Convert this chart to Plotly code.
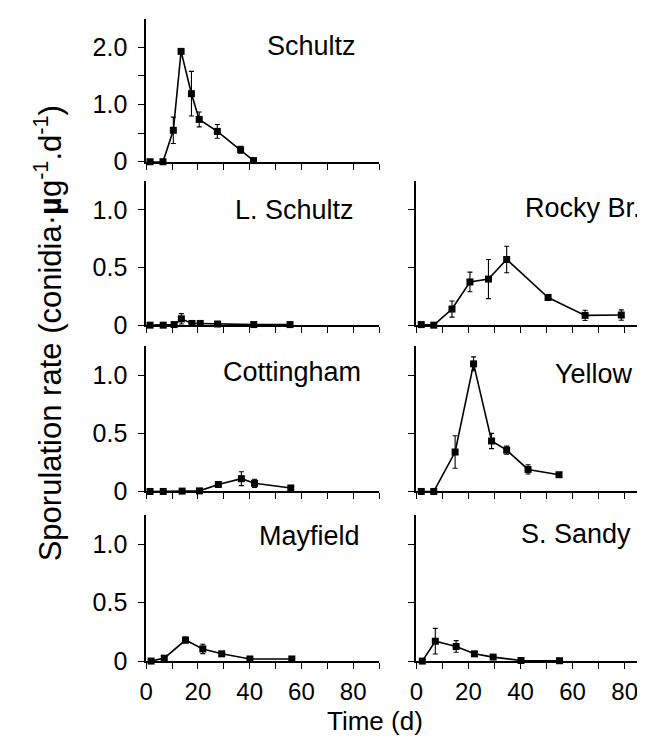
import plotly.graph_objects as go

# ---------------- data ----------------
schultz_x = [1.5, 6.5, 10.5, 13.5, 17.5, 20.5, 27.5, 36.5, 41.5]
schultz_y = [0.0, 0.0, 0.55, 1.93, 1.19, 0.74, 0.53, 0.21, 0.02]
schultz_e = [0, 0, 0.23, 0, 0.39, 0.13, 0.12, 0.06, 0]

lschultz_x = [1.5, 6.6, 10.8, 13.6, 17.7, 20.9, 27.6, 41.6, 55.6]
lschultz_y = [0.0, 0.0, 0.005, 0.055, 0.015, 0.015, 0.01, 0.005, 0.005]
lschultz_e = [0, 0, 0, 0.045, 0, 0, 0, 0, 0]

rocky_x = [1.9, 6.7, 13.7, 20.6, 27.7, 34.7, 50.6, 64.8, 78.7]
rocky_y = [0.005, 0.0, 0.14, 0.375, 0.40, 0.57, 0.24, 0.085, 0.088]
rocky_e = [0, 0, 0.07, 0.085, 0.17, 0.115, 0, 0.045, 0.045]

cott_x = [1.5, 6.6, 13.9, 20.6, 27.9, 36.8, 41.9, 55.9]
cott_y = [0.0, 0.0, 0.003, 0.005, 0.06, 0.11, 0.07, 0.03]
cott_e = [0, 0, 0, 0, 0, 0.06, 0.035, 0]

yellow_x = [1.9, 6.7, 14.9, 22.0, 28.9, 34.7, 42.9, 54.8]
yellow_y = [0.0, 0.0, 0.34, 1.10, 0.435, 0.356, 0.19, 0.144]
yellow_e = [0, 0, 0.14, 0.06, 0.066, 0.035, 0.04, 0]

mayfield_x = [1.9, 7.0, 15.2, 21.9, 29.2, 40.1, 56.3]
mayfield_y = [0.0, 0.025, 0.18, 0.104, 0.062, 0.018, 0.018]
mayfield_e = [0, 0, 0.025, 0.04, 0, 0, 0]

ssandy_x = [2.3, 7.3, 15.3, 22.3, 29.5, 40.2, 55.0]
ssandy_y = [0.0, 0.17, 0.125, 0.062, 0.034, 0.005, 0.003]
ssandy_e = [0, 0.11, 0.05, 0, 0, 0, 0]

x_ticks = [0, 20, 40, 60, 80]
x_ticktext = ["0", "20", "40", "60", "80"]
x_minor = [10, 30, 50, 70, 90]

panels = [
    # name, x, y, err, row, col, label right px, label center px
    ("Schultz", schultz_x, schultz_y, schultz_e, 0, 0, 347, 39),
    ("L. Schultz", lschultz_x, lschultz_y, lschultz_e, 1, 0, 345, 206),
    ("Rocky Br.", rocky_x, rocky_y, rocky_e, 1, 1, 635, 204),
    ("Cottingham", cott_x, cott_y, cott_e, 2, 0, 352, 371),
    ("Yellow", yellow_x, yellow_y, yellow_e, 2, 1, 627, 373),
    ("Mayfield", mayfield_x, mayfield_y, mayfield_e, 3, 0, 351, 538),
    ("S. Sandy", ssandy_x, ssandy_y, ssandy_e, 3, 1, 625, 536),
]

W, H = 645, 738
col_px = [(132.6, 368.0), (405.7, 642.7)]
row_px = [(11.0, 156.7), (176.5, 323.3), (345.0, 492.8), (517.0, 665.7)]

FONT = "Liberation Sans, Arial, Helvetica, sans-serif"

fig = go.Figure()
layout = dict(
    width=W, height=H,
    margin=dict(l=0, r=0, t=0, b=0),
    plot_bgcolor="white", paper_bgcolor="white",
    showlegend=False,
    font=dict(family=FONT, color="black", size=24),
)
annotations = []

for i, (name, xs, ys, es, r, c, lab_r, lab_c) in enumerate(panels):
    n = "" if i == 0 else str(i + 1)
    xa, ya = "x" + n, "y" + n
    fig.add_trace(go.Scatter(
        x=xs, y=ys, xaxis=xa, yaxis=ya, mode="lines+markers",
        line=dict(color="black", width=1.6),
        marker=dict(symbol="square", size=7, color="black"),
        error_y=dict(type="data", array=es, visible=True, color="black",
                     thickness=1.1, width=2.5),
        cliponaxis=False,
    ))
    x0, x1 = col_px[c]
    top, bot = row_px[r]
    bottom_row = (r == 3)
    left_col = (c == 0)
    layout["xaxis" + n] = dict(
        domain=[x0 / W, x1 / W], anchor=ya, range=[0, 90],
        showline=True, linecolor="black", linewidth=1.6,
        ticks="outside", ticklen=6, tickwidth=1.4, tickcolor="black",
        tickvals=x_ticks, ticktext=x_ticktext,
        minor=dict(tickvals=x_minor, ticks="outside", ticklen=6,
                   tickwidth=1.4, tickcolor="black", showgrid=False),
        showticklabels=bottom_row, ticklabelstandoff=2,
        tickfont=dict(size=24, family=FONT),
        showgrid=False, zeroline=False, fixedrange=True,
    )
    if r == 0:
        yr = [0, 2.5]
        yt, ytt, ym = [0, 1, 2], ["0", "1.0", "2.0"], [0.5, 1.5]
    else:
        yr = [0, 1.25]
        yt, ytt, ym = [0, 0.5, 1.0], ["0", "0.5", "1.0"], []
    layout["yaxis" + n] = dict(
        domain=[1 - bot / H, 1 - top / H], anchor=xa, range=yr,
        showline=True, linecolor="black", linewidth=1.6,
        ticks="outside", ticklen=6, tickwidth=1.4, tickcolor="black",
        tickvals=yt, ticktext=ytt,
        minor=dict(tickvals=ym, ticks="outside", ticklen=6,
                   tickwidth=1.4, tickcolor="black", showgrid=False),
        showticklabels=left_col, ticklabelstandoff=6,
        tickfont=dict(size=25, family=FONT),
        showgrid=False, zeroline=False, fixedrange=True,
    )
    annotations.append(dict(
        text=name, xref="paper", yref="paper",
        x=lab_r / W, y=1 - lab_c / H, xanchor="right", yanchor="middle",
        showarrow=False, font=dict(size=27, family=FONT, color="black"),
    ))

annotations.append(dict(
    text="Sporulation rate (conidia·<b>µ</b>g<sup>-1</sup>.d<sup>-1</sup>)",
    xref="paper", yref="paper", x=33 / W, y=1 - 332 / H,
    xanchor="center", yanchor="middle", textangle=-90, showarrow=False,
    font=dict(size=31, family=FONT, color="black"),
))
annotations.append(dict(
    text="Time (d)", xref="paper", yref="paper", x=364 / W, y=-5 / H,
    xanchor="center", yanchor="bottom", showarrow=False, borderpad=0,
    font=dict(size=26, family=FONT, color="black"),
))
layout["annotations"] = annotations
fig.update_layout(**layout)
fig.write_html("out.html")
